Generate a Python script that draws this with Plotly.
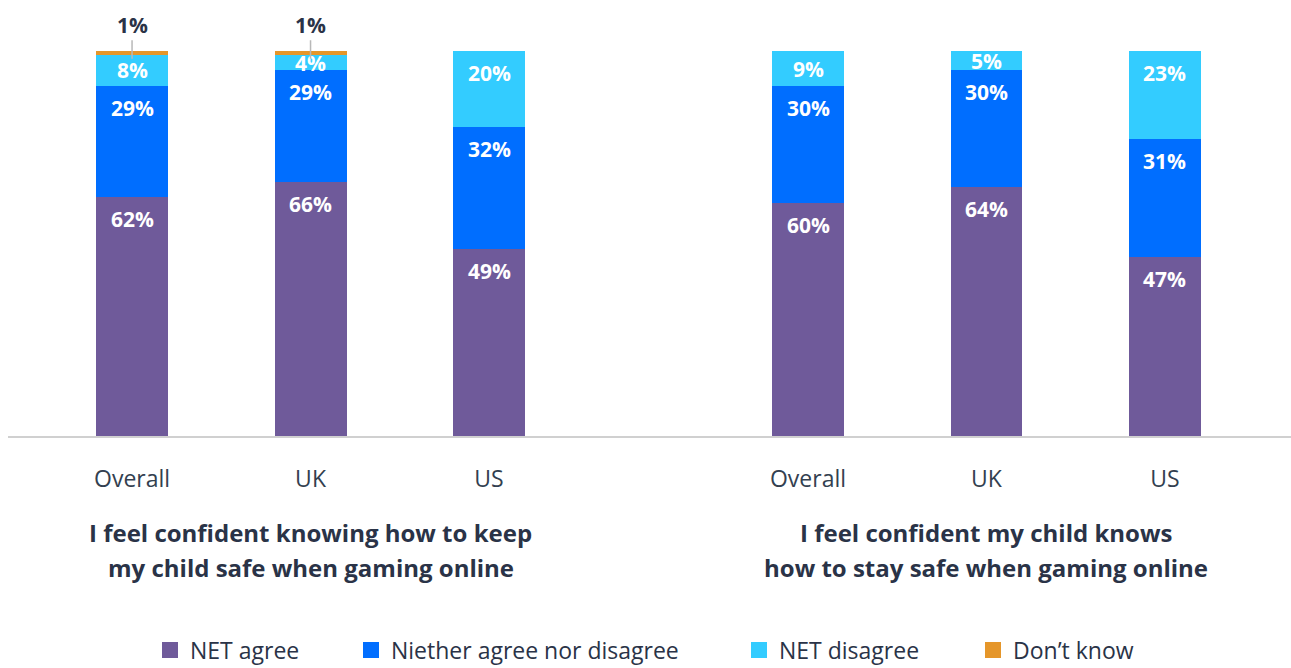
import plotly.graph_objects as go

# Survey results, two statements, three audiences each
audiences = ["Overall", "UK", "US"]
statement_lines = [
    ["I feel confident knowing how to keep", "my child safe when gaming online"],
    ["I feel confident my child knows", "how to stay safe when gaming online"],
]
net_agree = [62, 66, 49, 60, 64, 47]
neither = [29, 29, 32, 30, 30, 31]
net_disagree = [8, 4, 20, 9, 5, 23]
dont_know = [1, 1, 0, 0, 0, 0]

series = [
    ("NET agree", net_agree, "#6F5A9A"),
    ("Niether agree nor disagree", neither, "#006EFF"),
    ("NET disagree", net_disagree, "#33CCFF"),
    ("Don\u2019t know", dont_know, "#E5962A"),
]

# x slot for each bar: groups of three with a wider gap between statements
group_gap = 3.787
xpos = [g * group_gap + i for g in range(len(statement_lines)) for i in range(len(audiences))]
xlabels = audiences * len(statement_lines)

FONT = "Open Sans"
DARK = "#2A3347"
PLOT_H = 385  # plot-area height in px (top margin 51, bottom margin 232)

fig = go.Figure()
legend_ids = ["legend", "legend2", "legend3", "legend4"]
legend_text_x = [190, 391, 779, 1013]

for (name, vals, color), lid in zip(series, legend_ids):
    fig.add_trace(go.Bar(
        name=name, x=xpos, y=vals, marker=dict(color=color, line=dict(width=0)),
        width=0.403, showlegend=False, legendgroup=name, hoverinfo="skip",
    ))
    # legend swatch
    fig.add_trace(go.Scatter(
        name=name, x=[None], y=[None], mode="markers", legendgroup=name,
        marker=dict(symbol="square", size=16, color=color), legend=lid,
        showlegend=True,
    ))

# value labels near the top of each segment (bars are normalised to 100%)
for i, x in enumerate(xpos):
    vals = [s[1][i] for s in series]
    total = sum(vals)
    cum = 0.0
    for v in vals:
        cum += v
        if v < 4:
            continue
        top = 100.0 * cum / total
        h_px = 100.0 * v / total / 100.0 * PLOT_H
        fig.add_annotation(
            x=x, y=top, xref="x", yref="y", yshift=-min(22, h_px / 2),
            text=f"<b>{v}%</b>", showarrow=False, yanchor="middle",
            font=dict(family=FONT, size=21, color="white"),
        )

# callouts for the tiny "Don't know" slices
for x, v, a, n, d in zip(xpos, dont_know, net_agree, neither, net_disagree):
    if v > 0:
        fig.add_annotation(
            x=x, y=100.0 - 100.0 * v / (a + n + d + v) / 2 - 1.5, xref="x", yref="y",
            text=f"<b>{v}%</b>", showarrow=True, arrowhead=0, arrowwidth=1.5,
            arrowcolor="#B8B8B8", ax=0, ay=-34, standoff=0,
            font=dict(family=FONT, size=21, color=DARK),
        )

# statement captions beneath each group
caption_y = [-0.2519, -0.3403]
for g, lines in enumerate(statement_lines):
    for line, cy in zip(lines, caption_y):
        fig.add_annotation(
            x=g * group_gap + 1, y=cy, xref="x", yref="paper",
            text=f"<b>{line}</b>", showarrow=False, align="center",
            font=dict(family=FONT, size=24, color=DARK), yanchor="middle",
        )

legend_layout = {}
for lid, tx in zip(legend_ids, legend_text_x):
    legend_layout[lid] = dict(
        xref="container", yref="container", x=(tx - 40) / 1291, xanchor="left",
        y=18 / 668, yanchor="middle", orientation="h",
        font=dict(family=FONT, size=23, color=DARK), itemsizing="trace",
        bgcolor="rgba(0,0,0,0)",
    )

fig.update_layout(
    barmode="stack", barnorm="percent",
    width=1291, height=668,
    margin=dict(l=8, r=0, t=51, b=232),
    paper_bgcolor="white", plot_bgcolor="white",
    font=dict(family=FONT, color=DARK),
    showlegend=True,
    xaxis=dict(
        range=[-0.695, 6.493], tickvals=xpos, ticktext=xlabels,
        showgrid=False, zeroline=False, showline=True, linecolor="#D0D0D0",
        linewidth=2, ticks="outside", tickcolor="rgba(0,0,0,0)", ticklen=21,
        tickfont=dict(family=FONT, size=23, color="#333F50"),
    ),
    yaxis=dict(range=[0, 100], visible=False, fixedrange=True),
    **legend_layout,
)

fig.write_html("out.html")
